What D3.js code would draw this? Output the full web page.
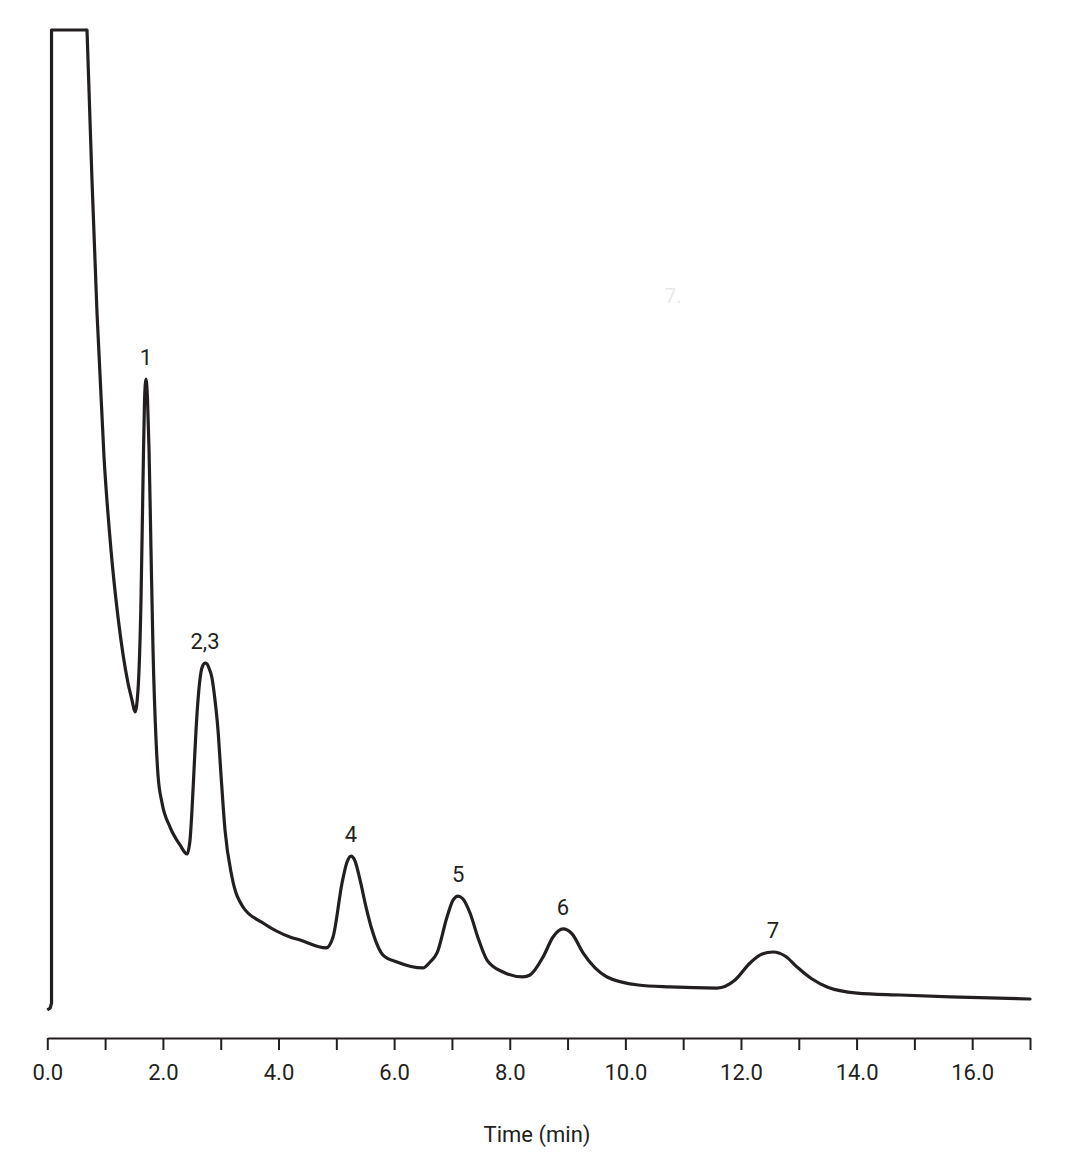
<!DOCTYPE html>
<html>
<head>
<meta charset="utf-8">
<script src="https://cdn.jsdelivr.net/npm/d3@7/dist/d3.min.js"></script>
<style>
  html, body { margin: 0; padding: 0; background: #fff; }
  svg { display: block; }
  text { font-family: Roboto, "Open Sans", sans-serif; fill: #231f20; }
</style>
</head>
<body>
<svg id="chart" width="1073" height="1172"></svg>
<script>
// ---- Data ----
// Injection block (solvent front), time in min, signal in relative units (0-100)
const injTime   = [0.0, 0.05, 0.073, 0.073, 0.687];
const injSignal = [0.0, 0.20, 0.71, 100, 100];

// Chromatographic trace after the solvent front
const traceTime = [
  0.687, 0.773, 0.860, 0.981, 1.102, 1.223, 1.396, 1.465, 1.517,
  1.569, 1.621, 1.656, 1.682, 1.708, 1.734, 1.760, 1.794, 1.829, 1.881,
  1.915, 1.985, 2.123, 2.296, 2.417, 2.469, 2.503, 2.538, 2.573, 2.607,
  2.659, 2.694, 2.728, 2.763, 2.796, 2.849, 2.901, 2.953, 3.005, 3.074,
  3.195, 3.386,
  3.732, 4.199, 4.372, 4.822, 4.943, 5.099, 5.185, 5.254, 5.324, 5.410,
  5.514, 5.618, 5.808, 6.050, 6.500, 6.621, 6.742, 6.915, 7.019, 7.106,
  7.192, 7.313, 7.452, 7.607, 7.884, 8.230, 8.351, 8.576, 8.749, 8.922,
  9.078, 9.268, 9.476, 9.683, 10.220, 10.773, 11.586, 11.898, 12.157, 12.365,
  12.555, 12.763, 12.970, 13.230, 13.490, 14.009, 14.753, 15.618, 17.0
];
const traceSignal = [
  100, 84.69, 71.12, 56.43, 46.94, 40.10, 33.37, 31.63, 30.41,
  32.65, 41.84, 54.08, 62.24, 64.39, 62.24, 57.14, 46.94, 36.73, 27.55,
  23.98, 21.12, 18.67, 16.84, 15.92, 17.35, 20.41, 24.49, 28.57, 31.63,
  34.49, 35.20, 35.41, 35.31, 34.90, 33.88, 31.63, 28.57, 23.98, 18.37,
  13.57, 10.51,
  8.88, 7.45, 7.14, 6.33, 7.45, 12.96, 15.10, 15.71, 15.20, 13.27,
  10.51, 8.16, 5.61, 4.90, 4.29, 4.90, 5.82, 9.49, 11.22, 11.63,
  11.33, 9.90, 7.35, 5.10, 3.88, 3.37, 3.57, 5.41, 7.45, 8.27,
  7.76, 5.82, 4.29, 3.37, 2.55, 2.35, 2.24, 3.06, 4.80, 5.71,
  5.92, 5.51, 4.39, 3.16, 2.35, 1.73, 1.53, 1.33, 1.12
];

// Peak labels (apex time / signal)
const peakLabels = ["1", "2,3", "4", "5", "6", "7"];
const peakTime   = [1.708, 2.728, 5.254, 7.106, 8.922, 12.555];
const peakSignal = [64.39, 35.41, 15.71, 11.63, 8.27, 5.92];

// Axis ticks
const tickValues = d3.range(0, 18, 1);
const tickLabelValues = [0, 2, 4, 6, 8, 10, 12, 14, 16];
const xTitle = "Time (min)";

// ---- Layout ----
const ink = "#231f20";
const svg = d3.select("#chart");
const x = d3.scaleLinear().domain([0, 17]).range([47.3, 1030]);
const y = d3.scaleLinear().domain([0, 100]).range([1010, 30]);

// Faint artefact text present in the reference
svg.append("text")
  .attr("x", 665).attr("y", 303)
  .style("font-size", "20px")
  .style("fill", "#e9e9e9")
  .text("7.");

// Trace
const injData = injTime.map((t, i) => [t, injSignal[i]]);
const traceData = traceTime.map((t, i) => [t, traceSignal[i]]);

svg.append("path")
  .datum(injData)
  .attr("fill", "none")
  .attr("stroke", ink)
  .attr("stroke-width", 3.2)
  .attr("stroke-linejoin", "round")
  .attr("d", d3.line().x(d => x(d[0])).y(d => y(d[1])).curve(d3.curveLinear));

svg.append("path")
  .datum(traceData)
  .attr("fill", "none")
  .attr("stroke", ink)
  .attr("stroke-width", 3.2)
  .attr("stroke-linejoin", "round")
  .attr("stroke-linecap", "round")
  .attr("d", d3.line().x(d => x(d[0])).y(d => y(d[1])).curve(d3.curveMonotoneX));

// Peak labels
svg.append("g").selectAll("text")
  .data(peakLabels)
  .join("text")
  .attr("x", (d, i) => x(peakTime[i]))
  .attr("y", (d, i) => y(peakSignal[i]) - 14)
  .attr("text-anchor", "middle")
  .style("font-size", "22px")
  .text(d => d);

// X axis
const axis = d3.axisBottom(x)
  .tickValues(tickValues)
  .tickSize(12)
  .tickSizeOuter(0)
  .tickPadding(14)
  .tickFormat(d => tickLabelValues.includes(d) ? d3.format(".1f")(d) : "");

const gx = svg.append("g")
  .attr("transform", "translate(0,1038)")
  .call(axis);
gx.select(".domain").attr("stroke", ink).attr("stroke-width", 2);
gx.selectAll(".tick line").attr("stroke", ink).attr("stroke-width", 2);
gx.selectAll(".tick text")
  .attr("fill", ink)
  .style("font-size", "22px")
  .style("font-family", "Roboto, 'Open Sans', sans-serif");

svg.append("text")
  .attr("x", 537).attr("y", 1142)
  .attr("text-anchor", "middle")
  .style("font-size", "22px")
  .text(xTitle);
</script>
</body>
</html>
